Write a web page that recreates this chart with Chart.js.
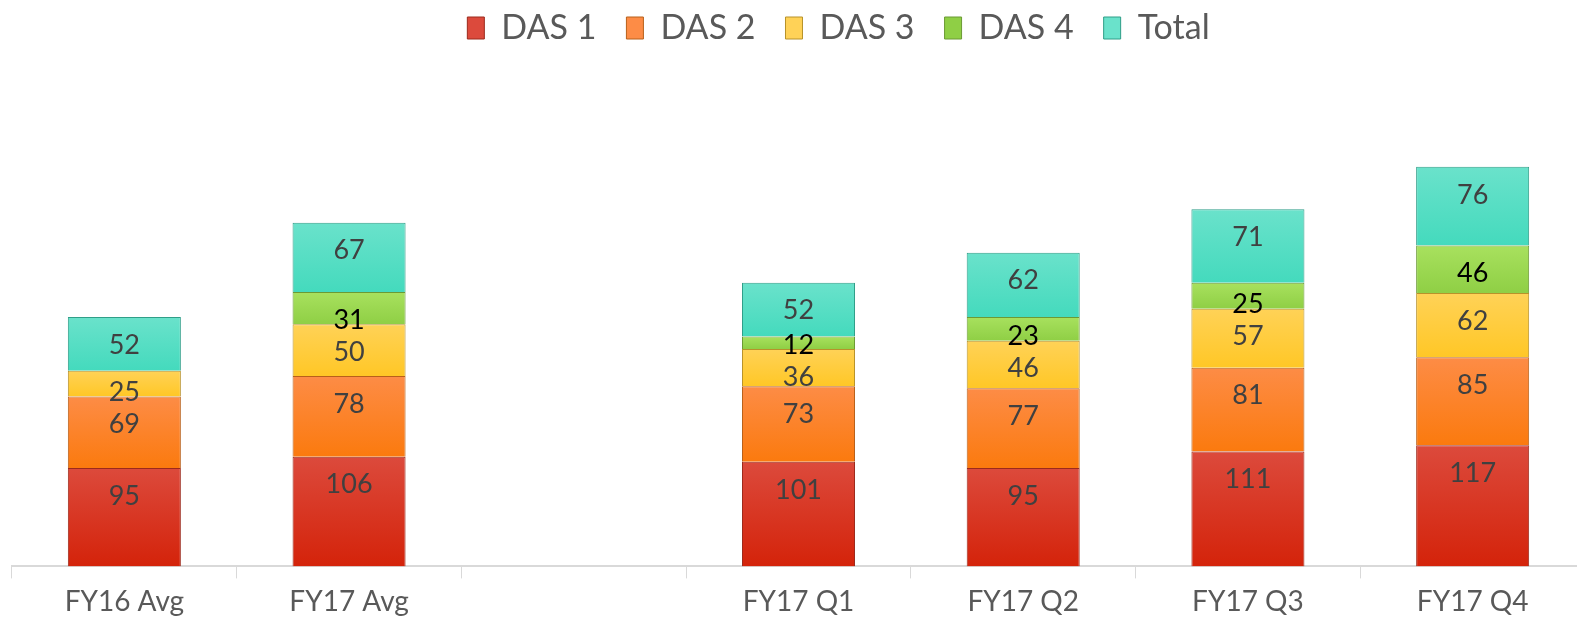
<!DOCTYPE html>
<html>
<head>
<meta charset="utf-8">
<script src="https://cdn.jsdelivr.net/npm/chart.js@4.4.0/dist/chart.umd.min.js"></script>
<style>
html, body { margin: 0; padding: 0; background: #fff; overflow: hidden; }
#wrap { width: 1585px; height: 618px; }
</style>
</head>
<body>
<div id="wrap"><canvas id="dasChart" width="1585" height="618"></canvas></div>
<script>
// categories (blank slot between the averages and the quarters)
let categories = ["FY16 Avg", "FY17 Avg", "", "FY17 Q1", "FY17 Q2", "FY17 Q3", "FY17 Q4"];
let das1 = [95, 106, null, 101, 95, 111, 117];
let das2 = [69, 78, null, 73, 77, 81, 85];
let das3 = [25, 50, null, 36, 46, 57, 62];
let das4 = [null, 31, null, 12, 23, 25, 46];
let total = [52, 67, null, 52, 62, 71, 76];
let seriesNames = ["DAS 1", "DAS 2", "DAS 3", "DAS 4", "Total"];
let seriesData = [das1, das2, das3, das4, total];

let colorTop = ["#dc4a3c", "#fd8c46", "#ffd257", "#a8e15e", "#6ae2cb"];
let colorBottom = ["#d4230a", "#fb7a0e", "#ffc726", "#8fcf45", "#44dabd"];
let colorEdge = ["#9c2a1c", "#b8601a", "#b8922a", "#6b9a35", "#2f9e88"];

function barFill(ctx) {
    let i = ctx.datasetIndex;
    if (ctx.type !== "data") return colorBottom[i];
    let chart = ctx.chart;
    let y = chart.scales.y;
    if (!y) return colorBottom[i];
    let below = 0;
    for (let k = 0; k < i; k++) below += seriesData[k][ctx.dataIndex] || 0;
    let top = y.getPixelForValue(below + (ctx.raw || 0));
    let base = y.getPixelForValue(below);
    if (!isFinite(top) || !isFinite(base) || top === base) return colorBottom[i];
    let g = chart.ctx.createLinearGradient(0, top, 0, base);
    g.addColorStop(0, colorTop[i]);
    g.addColorStop(1, colorBottom[i]);
    return g;
}

// value labels sit near the top of each segment
const segmentLabels = {
    id: "segmentLabels",
    afterDatasetsDraw(chart) {
        let c = chart.ctx;
        c.save();
        c.font = "27px Lato";
        c.textAlign = "center";
        c.textBaseline = "middle";
        chart.data.datasets.forEach((ds, i) => {
            chart.getDatasetMeta(i).data.forEach((bar, j) => {
                let v = ds.data[j];
                if (v == null) return;
                c.fillStyle = i === 3 ? "#000000" : "#404040";
                c.fillText(String(v), bar.x, Math.min(bar.y + 28, bar.base - 4));
            });
        });
        c.restore();
    }
};

// legend in the original is a bit right of centre
const legendShift = {
    id: "legendShift",
    afterLayout(chart) {
        chart.legend.left += 40;
        chart.legend.right += 40;
    }
};

let datasets = seriesNames.map((name, i) => ({
    label: name,
    data: seriesData[i],
    backgroundColor: barFill,
    borderColor: colorEdge[i],
    borderWidth: 1,
    categoryPercentage: 1,
    barPercentage: 0.503
}));

let dasCtx = document.getElementById("dasChart").getContext("2d");

let dasChart = new Chart(dasCtx, {
    type: "bar",
    data: { labels: categories, datasets: datasets },
    plugins: [segmentLabels, legendShift],
    options: {
        responsive: false,
        animation: false,
        layout: { padding: { left: 12, right: 0, top: -19, bottom: -8 } },
        plugins: {
            tooltip: { enabled: false },
            legend: {
                position: "top",
                labels: {
                    font: { family: "Lato", size: 34 },
                    color: "#595959",
                    boxWidth: 17,
                    boxHeight: 22,
                    padding: 30
                }
            }
        },
        scales: {
            x: {
                stacked: true,
                grid: { display: true, drawOnChartArea: false, color: "#d9d9d9", tickLength: 12, offset: true },
                border: { color: "#d9d9d9", width: 2 },
                ticks: { font: { family: "Lato", size: 28 }, color: "#595959", padding: 7 }
            },
            y: {
                stacked: true,
                display: false,
                min: 0,
                max: 494
            }
        }
    }
});
</script>
</body>
</html>
